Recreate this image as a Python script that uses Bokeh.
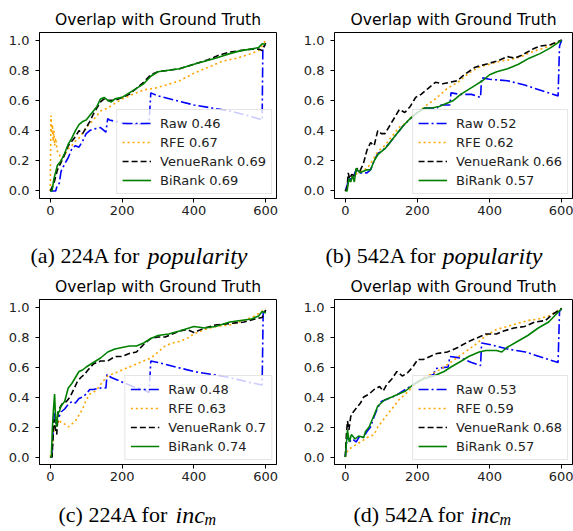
from bokeh.plotting import figure
from bokeh.layouts import column, row
from bokeh.models import Label, FixedTicker, PrintfTickFormatter, Range1d
from bokeh.embed import file_html
from bokeh.resources import INLINE

title_text = "Overlap with Ground Truth"
series_names = ["Raw", "RFE", "VenueRank", "BiRank"]
x_ticks = [0, 200, 400, 600]
y_ticks = [0.0, 0.2, 0.4, 0.6, 0.8, 1.0]

# ---------------- panel (a): 224A popularity ----------------
a_scores = ["0.46", "0.67", "0.69", "0.69"]
a_raw_x = [0, 15, 20, 25, 30, 40, 50, 60, 70, 80, 90, 100, 110, 120, 140, 155, 160, 165, 200, 240, 275, 280, 300, 350, 400, 450, 500, 550, 590, 592, 600]
a_raw_y = [0, 0, 0.04, 0.05, 0.13, 0.18, 0.22, 0.28, 0.30, 0.29, 0.33, 0.38, 0.40, 0.41, 0.42, 0.39, 0.48, 0.47, 0.45, 0.44, 0.45, 0.65, 0.63, 0.60, 0.57, 0.55, 0.53, 0.50, 0.47, 0.95, 0.97]
a_rfe_x = [0, 1, 2, 4, 6, 8, 10, 12, 15, 20, 25, 30, 40, 50, 60, 70, 80, 100, 120, 140, 160, 180, 200, 230, 260, 290, 320, 360, 400, 440, 480, 520, 560, 580, 590, 600]
a_rfe_y = [0, 0.28, 0.50, 0.38, 0.44, 0.33, 0.40, 0.30, 0.35, 0.26, 0.25, 0.20, 0.24, 0.28, 0.30, 0.33, 0.35, 0.42, 0.47, 0.53, 0.55, 0.58, 0.61, 0.64, 0.67, 0.68, 0.70, 0.73, 0.78, 0.82, 0.86, 0.88, 0.91, 0.93, 0.96, 1.00]
a_ven_x = [0, 10, 20, 30, 40, 50, 60, 70, 80, 90, 100, 110, 120, 130, 140, 150, 160, 180, 200, 220, 240, 260, 280, 300, 330, 360, 400, 440, 470, 500, 530, 560, 580, 590, 600]
a_ven_y = [0, 0.05, 0.14, 0.19, 0.24, 0.30, 0.33, 0.36, 0.40, 0.38, 0.42, 0.46, 0.51, 0.55, 0.59, 0.61, 0.60, 0.60, 0.62, 0.64, 0.68, 0.72, 0.77, 0.79, 0.80, 0.81, 0.84, 0.87, 0.90, 0.92, 0.93, 0.94, 0.94, 0.93, 0.98]
a_bir_x = [0, 5, 10, 20, 30, 40, 50, 60, 70, 80, 90, 100, 110, 120, 130, 140, 150, 160, 170, 180, 200, 220, 240, 260, 280, 300, 330, 360, 400, 430, 460, 500, 530, 560, 580, 590, 600]
a_bir_y = [0, 0.0, 0.08, 0.17, 0.20, 0.25, 0.31, 0.35, 0.40, 0.44, 0.46, 0.47, 0.50, 0.53, 0.56, 0.61, 0.62, 0.60, 0.59, 0.61, 0.62, 0.65, 0.68, 0.71, 0.76, 0.79, 0.80, 0.81, 0.84, 0.86, 0.88, 0.91, 0.93, 0.94, 0.95, 0.975, 0.97]

# ---------------- panel (b): 542A popularity ----------------
b_scores = ["0.52", "0.62", "0.66", "0.57"]
b_raw_x = [0, 10, 20, 30, 40, 50, 60, 70, 80, 90, 100, 120, 140, 160, 180, 200, 220, 240, 255, 260, 290, 293, 320, 350, 375, 378, 400, 450, 500, 550, 590, 594, 600]
b_raw_y = [0, 0.08, 0.08, 0.14, 0.12, 0.12, 0.12, 0.14, 0.20, 0.25, 0.26, 0.31, 0.37, 0.43, 0.48, 0.52, 0.55, 0.55, 0.55, 0.57, 0.57, 0.65, 0.64, 0.64, 0.62, 0.75, 0.74, 0.73, 0.70, 0.66, 0.63, 0.96, 1.0]
b_rfe_x = [0, 8, 22, 42, 61, 80, 90, 109, 129, 148, 167, 187, 206, 226, 245, 264, 283, 312, 342, 371, 400, 429, 458, 487, 516, 555, 600]
b_rfe_y = [0, 0.05, 0.10, 0.13, 0.15, 0.22, 0.26, 0.30, 0.36, 0.42, 0.45, 0.50, 0.53, 0.57, 0.60, 0.64, 0.68, 0.72, 0.78, 0.82, 0.84, 0.86, 0.87, 0.89, 0.92, 0.95, 1.0]
b_ven_x = [0, 5, 8, 12, 18, 25, 32, 40, 50, 60, 70, 80, 90, 100, 110, 120, 135, 150, 165, 180, 195, 210, 230, 250, 270, 290, 310, 330, 360, 390, 420, 450, 470, 490, 520, 540, 570, 600]
b_ven_y = [0, 0.02, 0.12, 0.08, 0.11, 0.10, 0.15, 0.13, 0.18, 0.27, 0.32, 0.30, 0.40, 0.38, 0.38, 0.42, 0.48, 0.54, 0.52, 0.56, 0.62, 0.64, 0.68, 0.72, 0.71, 0.72, 0.73, 0.77, 0.82, 0.84, 0.86, 0.89, 0.88, 0.90, 0.94, 0.96, 0.97, 1.00]
b_bir_x = [0, 5, 10, 15, 20, 25, 30, 40, 50, 60, 70, 80, 90, 100, 110, 120, 140, 160, 180, 200, 220, 240, 260, 280, 300, 320, 340, 360, 380, 400, 420, 450, 480, 510, 540, 570, 600]
b_bir_y = [0, 0.0, 0.08, 0.06, 0.10, 0.06, 0.15, 0.12, 0.13, 0.14, 0.14, 0.20, 0.24, 0.26, 0.28, 0.31, 0.37, 0.43, 0.48, 0.52, 0.55, 0.55, 0.56, 0.58, 0.60, 0.64, 0.67, 0.70, 0.73, 0.77, 0.79, 0.81, 0.84, 0.88, 0.91, 0.95, 1.00]

# ---------------- panel (c): 224A inc_m ----------------
c_scores = ["0.48", "0.63", "0.7", "0.74"]
c_raw_x = [0, 5, 8, 12, 16, 20, 25, 30, 40, 50, 60, 70, 80, 90, 100, 110, 120, 140, 155, 158, 170, 200, 230, 260, 275, 280, 300, 350, 400, 450, 500, 550, 590, 593, 600]
c_raw_y = [0, 0.0, 0.18, 0.30, 0.22, 0.25, 0.27, 0.30, 0.32, 0.35, 0.37, 0.36, 0.39, 0.40, 0.42, 0.45, 0.45, 0.46, 0.46, 0.55, 0.53, 0.50, 0.47, 0.45, 0.43, 0.64, 0.63, 0.60, 0.57, 0.55, 0.53, 0.50, 0.48, 0.98, 0.97]
c_rfe_x = [0, 5, 10, 15, 20, 25, 30, 40, 50, 60, 70, 80, 90, 100, 110, 120, 130, 145, 160, 180, 200, 220, 240, 260, 280, 300, 320, 340, 360, 380, 400, 430, 460, 500, 540, 570, 600]
c_rfe_y = [0, 0.05, 0.18, 0.27, 0.22, 0.25, 0.23, 0.22, 0.20, 0.22, 0.24, 0.28, 0.32, 0.38, 0.42, 0.43, 0.45, 0.50, 0.54, 0.56, 0.58, 0.60, 0.62, 0.64, 0.66, 0.70, 0.74, 0.76, 0.77, 0.79, 0.82, 0.85, 0.87, 0.88, 0.91, 0.94, 0.99]
c_ven_x = [0, 5, 10, 15, 18, 22, 27, 35, 45, 55, 65, 75, 85, 95, 105, 120, 140, 160, 180, 200, 220, 240, 260, 280, 300, 320, 340, 360, 380, 400, 410, 430, 460, 500, 540, 570, 590, 600]
c_ven_y = [0, 0.0, 0.25, 0.18, 0.15, 0.30, 0.33, 0.36, 0.37, 0.40, 0.45, 0.50, 0.53, 0.55, 0.58, 0.62, 0.64, 0.64, 0.67, 0.67, 0.69, 0.70, 0.75, 0.79, 0.80, 0.80, 0.82, 0.84, 0.85, 0.83, 0.84, 0.86, 0.88, 0.89, 0.90, 0.92, 0.93, 0.98]
c_bir_x = [0, 3, 6, 9, 12, 15, 18, 21, 25, 30, 40, 50, 60, 70, 80, 90, 100, 120, 140, 160, 180, 200, 220, 240, 260, 280, 300, 330, 360, 400, 430, 460, 500, 530, 560, 580, 590, 600]
c_bir_y = [0, 0.0, 0.20, 0.32, 0.42, 0.25, 0.20, 0.30, 0.30, 0.34, 0.37, 0.46, 0.49, 0.53, 0.57, 0.58, 0.60, 0.63, 0.66, 0.70, 0.72, 0.73, 0.74, 0.74, 0.76, 0.79, 0.81, 0.82, 0.84, 0.87, 0.86, 0.87, 0.90, 0.91, 0.92, 0.94, 0.97, 0.96]

# ---------------- panel (d): 542A inc_m ----------------
d_scores = ["0.53", "0.59", "0.68", "0.57"]
d_raw_x = [0, 5, 10, 20, 30, 40, 50, 60, 70, 80, 90, 100, 120, 140, 160, 180, 200, 220, 245, 250, 285, 290, 320, 350, 375, 378, 400, 450, 500, 550, 590, 594, 600]
d_raw_y = [0, 0.15, 0.10, 0.12, 0.10, 0.14, 0.13, 0.17, 0.20, 0.27, 0.33, 0.37, 0.39, 0.41, 0.44, 0.47, 0.50, 0.53, 0.55, 0.59, 0.60, 0.67, 0.66, 0.63, 0.61, 0.76, 0.75, 0.72, 0.70, 0.66, 0.63, 0.97, 0.99]
d_rfe_x = [0, 8, 22, 42, 61, 80, 90, 109, 129, 148, 167, 187, 216, 245, 274, 303, 332, 361, 390, 419, 448, 477, 506, 535, 564, 600]
d_rfe_y = [0, 0.05, 0.07, 0.10, 0.13, 0.15, 0.20, 0.26, 0.32, 0.38, 0.42, 0.47, 0.53, 0.56, 0.60, 0.65, 0.70, 0.75, 0.81, 0.85, 0.87, 0.89, 0.91, 0.92, 0.94, 0.99]
d_ven_x = [0, 3, 6, 10, 15, 22, 32, 42, 51, 66, 80, 95, 105, 114, 129, 143, 158, 172, 187, 201, 216, 235, 254, 283, 312, 342, 371, 390, 419, 439, 468, 497, 526, 555, 574, 600]
d_ven_y = [0, 0.15, 0.24, 0.18, 0.27, 0.30, 0.33, 0.36, 0.40, 0.42, 0.45, 0.47, 0.44, 0.48, 0.52, 0.57, 0.54, 0.56, 0.60, 0.65, 0.65, 0.67, 0.69, 0.70, 0.73, 0.77, 0.80, 0.82, 0.82, 0.84, 0.86, 0.87, 0.90, 0.91, 0.95, 0.99]
d_bir_x = [0, 6, 11, 17, 27, 37, 51, 56, 66, 80, 90, 109, 129, 148, 167, 187, 216, 245, 274, 293, 322, 342, 371, 390, 419, 434, 448, 477, 506, 535, 564, 584, 600]
d_bir_y = [0, 0.18, 0.10, 0.15, 0.12, 0.14, 0.13, 0.17, 0.20, 0.28, 0.34, 0.38, 0.40, 0.42, 0.44, 0.48, 0.52, 0.54, 0.57, 0.60, 0.64, 0.67, 0.70, 0.71, 0.71, 0.70, 0.73, 0.77, 0.81, 0.86, 0.90, 0.95, 0.99]

colors = ["blue", "orange", "black", "green"]
dashes = ["10 3 2 3", "2 3", "6 3", "solid"]


def make_panel(series, scores, width, height, left, right, top, bottom):
    p = figure(width=width, height=height, output_backend="svg", toolbar_location=None,
               x_range=Range1d(-30, 630), y_range=Range1d(-0.05, 1.05),
               min_border_left=left, min_border_right=right,
               min_border_top=top, min_border_bottom=bottom,
               background_fill_color="white", border_fill_color="white")
    p.title.text = title_text
    p.title.align = "center"
    p.title.text_font = "DejaVu Sans"
    p.title.text_font_size = "15.6px"
    p.title.text_font_style = "normal"
    p.title.text_color = "black"
    p.title.standoff = 7
    for (xs, ys), name, sc, col, dash in zip(series, series_names, scores, colors, dashes):
        p.line(xs, ys, line_color=col, line_dash=dash, line_width=1.6,
               legend_label=f"{name} {sc}")
    p.xgrid.grid_line_color = None
    p.ygrid.grid_line_color = None
    p.outline_line_color = "black"
    p.outline_line_width = 1
    for ax in (p.xaxis[0], p.yaxis[0]):
        ax.axis_line_color = "black"
        ax.major_tick_in = 0
        ax.major_tick_out = 4
        ax.minor_tick_line_color = None
        ax.major_label_text_font = "DejaVu Sans"
        ax.major_label_text_font_size = "13px"
        ax.major_label_text_color = "#222222"
    p.xaxis.ticker = FixedTicker(ticks=x_ticks)
    p.yaxis.ticker = FixedTicker(ticks=y_ticks)
    p.yaxis.formatter = PrintfTickFormatter(format="%.1f")
    p.xaxis.major_label_standoff = 3
    p.yaxis.major_label_standoff = 6
    lg = p.legend[0]
    lg.location = "bottom_right"
    lg.label_text_font = "DejaVu Sans"
    lg.label_text_font_size = "13px"
    lg.label_text_color = "#222222"
    lg.border_line_color = "#cccccc"
    lg.border_line_width = 1
    lg.background_fill_alpha = 0.8
    lg.glyph_width = 29
    lg.glyph_height = 16
    lg.label_height = 16
    lg.label_standoff = 9
    lg.spacing = 3
    lg.padding = 5
    lg.margin = 4
    return p


def make_caption(width, height, parts):
    c = figure(width=width, height=height, output_backend="svg", toolbar_location=None,
               title=None, x_range=Range1d(0, width), y_range=Range1d(0, height),
               min_border=0, background_fill_color="white", border_fill_color="white")
    c.axis.visible = False
    c.grid.grid_line_color = None
    c.outline_line_color = None
    for txt, xo, yo, size, style in parts:
        c.add_layout(Label(x=xo, y=yo, text=txt,
                           text_font="Liberation Serif", text_font_size=size,
                           text_font_style=style, text_color="black",
                           text_baseline="middle", text_align="left"))
    return c


pa = make_panel([(a_raw_x, a_raw_y), (a_rfe_x, a_rfe_y), (a_ven_x, a_ven_y), (a_bir_x, a_bir_y)],
                a_scores, 296, 223, 39, 20, 32, 25)
pb = make_panel([(b_raw_x, b_raw_y), (b_rfe_x, b_rfe_y), (b_ven_x, b_ven_y), (b_bir_x, b_bir_y)],
                b_scores, 277, 223, 38, 1, 32, 25)
pc = make_panel([(c_raw_x, c_raw_y), (c_rfe_x, c_rfe_y), (c_ven_x, c_ven_y), (c_bir_x, c_bir_y)],
                c_scores, 296, 217, 39, 20, 26, 25)
pd_ = make_panel([(d_raw_x, d_raw_y), (d_rfe_x, d_rfe_y), (d_ven_x, d_ven_y), (d_bir_x, d_bir_y)],
                 d_scores, 277, 217, 38, 1, 26, 25)

cap_a = make_caption(296, 49, [("(a) 224A for", 30, 17, "22px", "normal"),
                               ("popularity", 147, 17, "24px", "italic")])
cap_b = make_caption(277, 49, [("(b) 542A for", 29, 17, "22px", "normal"),
                               ("popularity", 146, 17, "24px", "italic")])
cap_c = make_caption(296, 42, [("(c) 224A for", 58, 17, "22px", "normal"),
                               ("inc", 175, 17, "24px", "italic"),
                               ("m", 204, 12, "16px", "italic")])
cap_d = make_caption(277, 42, [("(d) 542A for", 57, 17, "22px", "normal"),
                               ("inc", 174, 17, "24px", "italic"),
                               ("m", 203, 12, "16px", "italic")])

layout = column(row(pa, pb), row(cap_a, cap_b), row(pc, pd_), row(cap_c, cap_d))
open("out.html", "w").write(file_html(layout, INLINE))
